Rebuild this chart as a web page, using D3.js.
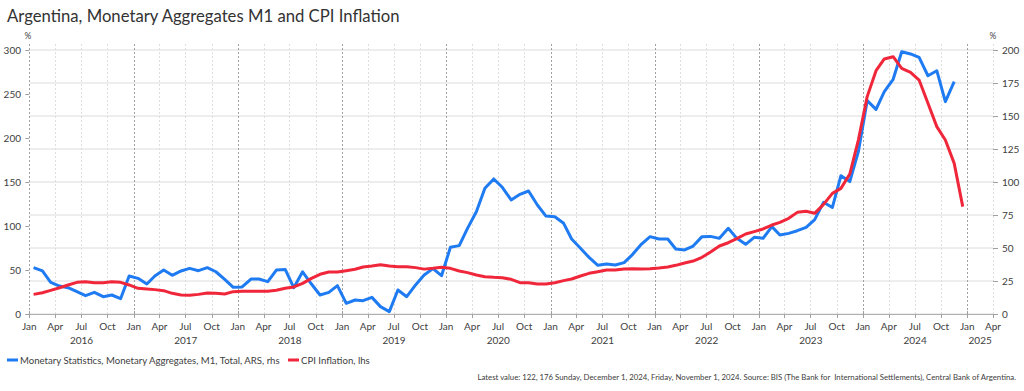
<!DOCTYPE html>
<html>
<head>
<meta charset="utf-8">
<script src="https://cdn.jsdelivr.net/npm/d3@7"></script>
<style>
  body { margin: 0; background: #fff; }
  text { font-family: Lato, "Liberation Sans", Arial, sans-serif; }
</style>
</head>
<body>
<div id="chart"></div>
<script>
const width = 1024, height = 391;

// Monthly series, Jan 2016 onwards (M1 ends Nov 2024, CPI ends Dec 2024)
const m1Values = [
  35.1, 32.6, 24, 21.2, 19.9, 16.9, 13.9, 16.4, 13.1, 14.4, 11.6, 28.8,
  27, 22.7, 28.8, 33.3, 29.3, 32.6, 34.6, 32.8, 35.1, 32, 26.3, 20.2,
  20.5, 26.5, 26.5, 24.5, 33.3, 33.8, 19.9, 32, 22.7, 14.4, 16.4, 21.5,
  8.1, 10.6, 10.1, 12.6, 5.6, 1.8, 18.2, 13.1, 22, 29.5, 34.4, 29,
  50.5, 51.8, 64.9, 77.5, 95.2, 102.3, 96, 86.4, 90.7, 93.2, 82.6, 74.2,
  73.7, 68.7, 56.8, 49.8, 42.9, 36.9, 37.9, 37.1, 38.9, 45.2, 53, 58.6,
  56.8, 56.8, 49.2, 48.5, 51.5, 58.6, 58.8, 57.3, 64.9, 57.3, 52.8, 58.1,
  57.3, 66.2, 59.8, 61.1, 63.1, 65.7, 71.5, 84.6, 80.7, 104.8, 100.3, 123,
  161.6, 155, 168.4, 177.8, 198.7, 197, 194.4, 180.5, 184.3, 160.9, 176
];
const cpiValues = [
  22.3, 24.2, 26.9, 29.9, 33, 36, 36.7, 35.6, 35.6, 36.7, 36, 33,
  29.2, 28.4, 27.7, 26.5, 23.5, 21.6, 21.2, 22.3, 23.9, 23.5, 22.7, 25.4,
  25.8, 25.8, 25.8, 25.8, 26.9, 29.2, 30.7, 34.8, 40.5, 45.1, 47.7, 47.7,
  49.2, 50.8, 53.4, 54.5, 56, 54.5, 53.8, 53.8, 52.7, 51, 51.9, 53,
  51.9, 48.9, 47, 44.3, 42.4, 41.7, 41.3, 39.4, 35.6, 35.6, 34.1, 34.1,
  35.6, 37.9, 39.8, 43.2, 46.2, 48.1, 50, 50, 51.1, 51.5, 51.1, 51.5,
  52.3, 53.4, 55.3, 58, 60.2, 64.4, 70.5, 77.3, 81, 85.6, 90.9, 93.6,
  96.6, 101.1, 104.2, 108.7, 115.5, 116.7, 114.4, 124.6, 137.1, 142.8, 159, 197.7,
  247, 276.5, 289.8, 292.4, 279.2, 274.6, 265.9, 239.4, 212.9, 197.7, 171.2, 122
];
const monthNames = ["Jan", "Feb", "Mar", "Apr", "May", "Jun", "Jul", "Aug", "Sep", "Oct", "Nov", "Dec"];
const years = [2016, 2017, 2018, 2019, 2020, 2021, 2022, 2023, 2024, 2025];
const leftTicks = [0, 50, 100, 150, 200, 250, 300];
const rightTicks = [0, 25, 50, 75, 100, 125, 150, 175, 200];

const seriesInfo = [
  { name: "Monetary Statistics, Monetary Aggregates, M1, Total, ARS, rhs", color: "#1f7bf2", values: m1Values, axis: "right" },
  { name: "CPI Inflation, lhs", color: "#f0263a", values: cpiValues, axis: "left" }
];
const title = "Argentina, Monetary Aggregates M1 and CPI Inflation";
const footnote = "Latest value: 122, 176 Sunday, December 1, 2024, Friday, November 1, 2024. Source: BIS (The Bank for  International Settlements), Central Bank of Argentina.";

const start = new Date(2016, 0, 1), end = new Date(2025, 3, 1);
const plot = { left: 29.3, right: 993, top: 50, bottom: 314 };

const x = d3.scaleTime().domain([start, end]).range([plot.left, plot.right]);
const yLeft = d3.scaleLinear().domain([0, 300]).range([plot.bottom, plot.top]);
const yRight = d3.scaleLinear().domain([0, 200]).range([plot.bottom, plot.top]);

// mid-month position for each observation
const obsDate = i => d3.timeDay.offset(d3.timeMonth.offset(start, i), 15);

const svg = d3.select("#chart").append("svg")
  .attr("width", width)
  .attr("height", height);

// horizontal grid (follows right axis)
svg.append("g")
  .selectAll("line")
  .data(rightTicks)
  .join("line")
  .attr("x1", plot.left).attr("x2", plot.right)
  .attr("y1", d => yRight(d)).attr("y2", d => yRight(d))
  .attr("stroke", "#dcdcdc")
  .attr("stroke-width", 1);

// vertical grid: quarters dotted, Jan dashed
const quarterTicks = d3.timeMonth.every(3).range(start, d3.timeDay.offset(end, 1));
svg.append("g")
  .selectAll("line")
  .data(quarterTicks)
  .join("line")
  .attr("x1", d => Math.round(x(d)) + 0.5).attr("x2", d => Math.round(x(d)) + 0.5)
  .attr("y1", plot.top - 6).attr("y2", plot.bottom)
  .attr("stroke", d => d.getMonth() === 0 ? "#a0a0a0" : "#dedede")
  .attr("stroke-dasharray", "2,2")
  .attr("stroke-width", 1);

// bottom axis line + ticks
svg.append("line")
  .attr("x1", plot.left).attr("x2", plot.right)
  .attr("y1", plot.bottom + 0.5).attr("y2", plot.bottom + 0.5)
  .attr("stroke", "#b0b0b0");
svg.append("g")
  .selectAll("line")
  .data(quarterTicks)
  .join("line")
  .attr("x1", d => Math.round(x(d)) + 0.5).attr("x2", d => Math.round(x(d)) + 0.5)
  .attr("y1", d => d.getMonth() === 0 ? plot.bottom - 3 : plot.bottom)
  .attr("y2", plot.bottom + 4)
  .attr("stroke", "#a0a0a0");

svg.append("g")
  .selectAll("text")
  .data(quarterTicks)
  .join("text")
  .attr("x", d => x(d))
  .attr("y", 330)
  .attr("text-anchor", "middle")
  .attr("font-size", 10)
  .attr("fill", "#404040")
  .text(d => monthNames[d.getMonth()]);

svg.append("g")
  .selectAll("text")
  .data(years)
  .join("text")
  .attr("x", d => {
    const a = new Date(d, 0, 1);
    const b = d3.min([new Date(d + 1, 0, 1), end]);
    return (x(a) + x(b)) / 2;
  })
  .attr("y", 344)
  .attr("text-anchor", "middle")
  .attr("font-size", 10)
  .attr("fill", "#404040")
  .text(d => d);

// left axis
const gl = svg.append("g");
gl.selectAll("line")
  .data(leftTicks)
  .join("line")
  .attr("x1", plot.left - 4).attr("x2", plot.left)
  .attr("y1", d => Math.round(yLeft(d)) + 0.5).attr("y2", d => Math.round(yLeft(d)) + 0.5)
  .attr("stroke", "#a0a0a0");
gl.selectAll("text")
  .data(leftTicks)
  .join("text")
  .attr("x", 21)
  .attr("y", d => yLeft(d) + 3.5)
  .attr("text-anchor", "end")
  .attr("font-size", 10)
  .attr("fill", "#404040")
  .text(d => d);
gl.append("text")
  .attr("x", 28).attr("y", 39)
  .attr("text-anchor", "middle")
  .attr("font-size", 8.5)
  .attr("fill", "#404040")
  .text("%");

// right axis
const gr = svg.append("g");
gr.selectAll("line")
  .data(rightTicks)
  .join("line")
  .attr("x1", plot.right).attr("x2", plot.right + 5)
  .attr("y1", d => Math.round(yRight(d)) + 0.5).attr("y2", d => Math.round(yRight(d)) + 0.5)
  .attr("stroke", "#a0a0a0");
gr.selectAll("text")
  .data(rightTicks)
  .join("text")
  .attr("x", 1002)
  .attr("y", d => yRight(d) + 3.5)
  .attr("text-anchor", "start")
  .attr("font-size", 10)
  .attr("fill", "#404040")
  .text(d => d);
gr.append("text")
  .attr("x", 993).attr("y", 39)
  .attr("text-anchor", "middle")
  .attr("font-size", 8.5)
  .attr("fill", "#404040")
  .text("%");

// series lines
const line = scale => d3.line()
  .x((d, i) => x(obsDate(i)))
  .y(d => scale(d));

seriesInfo.forEach(s => {
  svg.append("path")
    .datum(s.values)
    .attr("fill", "none")
    .attr("stroke", s.color)
    .attr("stroke-width", 3)
    .attr("stroke-linejoin", "round")
    .attr("d", line(s.axis === "left" ? yLeft : yRight)(s.values));
});

// title
svg.append("text")
  .attr("x", 7).attr("y", 22)
  .attr("font-size", 16.7)
  .attr("fill", "#333")
  .text(title);

// legend
const legendPos = [{ x: 7, tx: 20 }, { x: 288, tx: 301 }];
seriesInfo.forEach((s, i) => {
  svg.append("line")
    .attr("x1", legendPos[i].x).attr("x2", legendPos[i].x + 11)
    .attr("y1", 360).attr("y2", 360)
    .attr("stroke", s.color)
    .attr("stroke-width", 3);
  svg.append("text")
    .attr("x", legendPos[i].tx).attr("y", 363.5)
    .attr("font-size", 9.6)
    .attr("fill", "#404040")
    .text(s.name);
});

// footnote
svg.append("text")
  .attr("x", 1016).attr("y", 380)
  .attr("text-anchor", "end")
  .attr("font-size", 7.8)
  .attr("fill", "#404040")
  .style("white-space", "pre")
  .text(footnote);
</script>
</body>
</html>
